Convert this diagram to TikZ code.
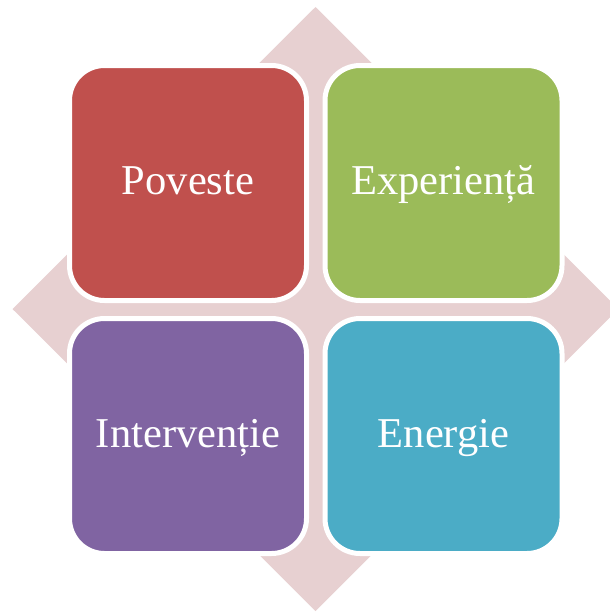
\documentclass[tikz,border=0pt]{standalone}
\usepackage{fontspec}
\setmainfont{Liberation Serif}
\usepackage{xcolor}
\usetikzlibrary{positioning}

\definecolor{tileRed}{HTML}{C0504D}
\definecolor{tileGreen}{HTML}{9BBB59}
\definecolor{tilePurple}{HTML}{8064A2}
\definecolor{tileBlue}{HTML}{4BACC6}
\definecolor{crossPink}{HTML}{E7D0D1}

\begin{document}
\begin{tikzpicture}[x=1pt,y=-1pt,
    tile/.style={draw=white,line width=5pt,rounded corners=35pt,
      minimum width=237pt,minimum height=235pt,inner sep=0pt,
      text=white,font=\fontsize{42.5}{42.5}\selectfont,
      text height=28pt,text depth=5pt}]
      \useasboundingbox (0,0) rectangle (610,614);

      % background cross
      \begin{scope}
        \clip (0,0) rectangle (610,614);
        \fill[crossPink] (315.5,7) -- (618.5,309) -- (315.5,611) -- (12.5,309) -- cycle;
      \end{scope}

      % the four tiles
      \node[tile,fill=tileRed]    (poveste)     at (188,183)   {Poveste};
      \node[tile,fill=tileGreen]  (experienta)  at (443.5,183) {Experiență};
      \node[tile,fill=tilePurple] (interventie) at (188,436)   {Intervenție};
      \node[tile,fill=tileBlue]   (energie)     at (443.5,436) {Energie};
    \end{tikzpicture}
\end{document}
